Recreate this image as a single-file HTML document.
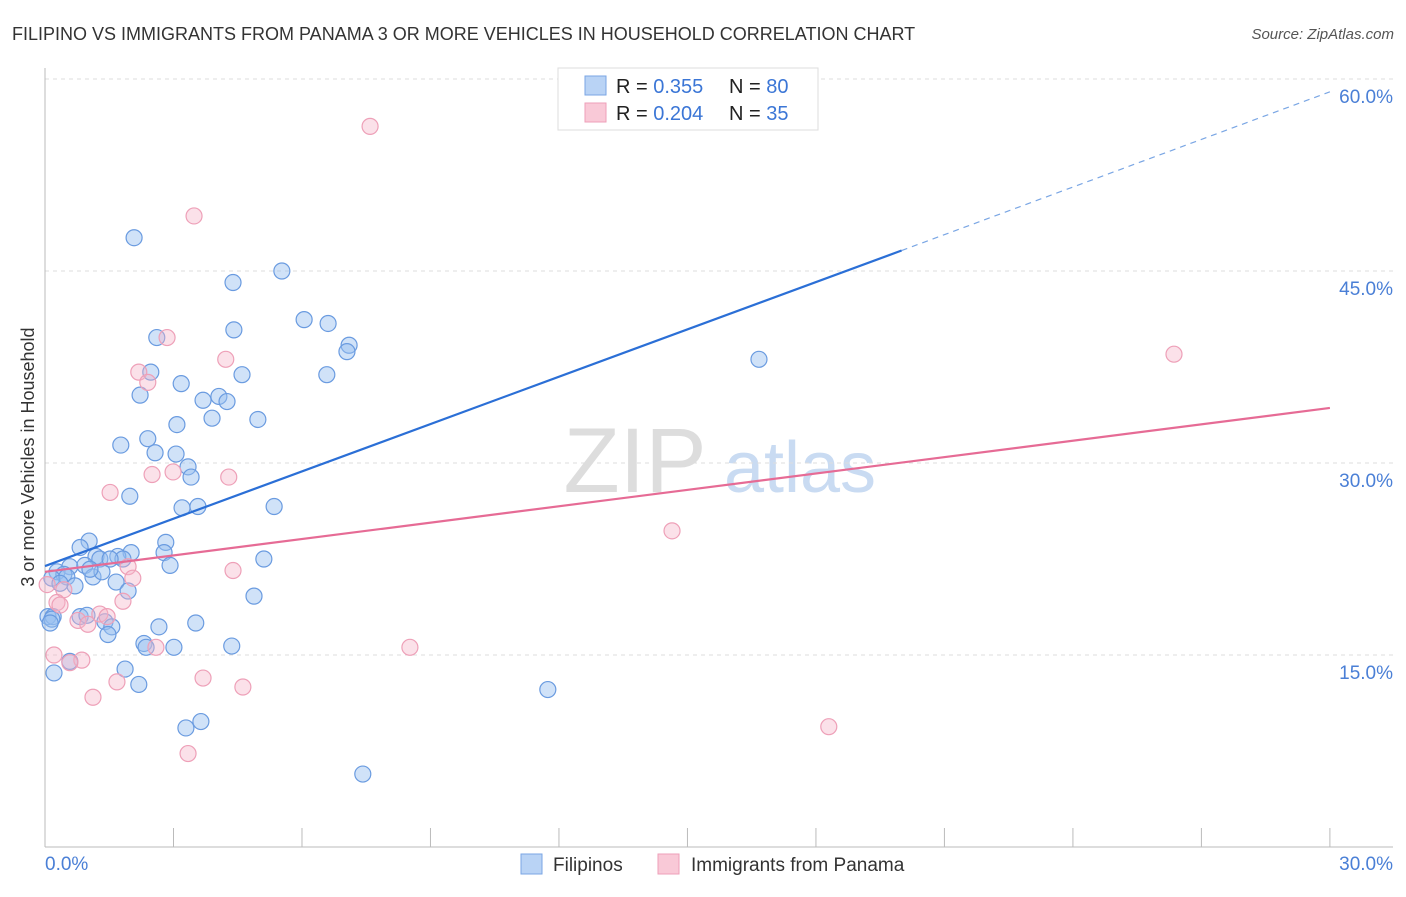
<!DOCTYPE html>
<html><head><meta charset="utf-8"><style>
body{margin:0;background:#fff;font-family:"Liberation Sans",sans-serif;}
svg text{font-family:"Liberation Sans",sans-serif;}
</style></head><body>
<svg id="chart" width="1406" height="892" xmlns="http://www.w3.org/2000/svg">
<text x="12" y="40" font-size="18" fill="#333">FILIPINO VS IMMIGRANTS FROM PANAMA 3 OR MORE VEHICLES IN HOUSEHOLD CORRELATION CHART</text>
<text x="1394" y="39" font-size="15" fill="#555" font-style="italic" text-anchor="end">Source: ZipAtlas.com</text>
<g>
<text x="635" y="492" font-size="92" fill="#ddd" font-family="Liberation Serif" text-anchor="middle">ZIP</text>
<text x="800" y="492" font-size="72" fill="#c9dbf2" text-anchor="middle">atlas</text>
</g>
<g id="grid"></g>
<g id="axes"></g>
<g id="pts"></g>
<g id="trends"></g>
<g>
<rect x="558" y="68" width="260" height="62" fill="#fff" stroke="#ddd"/>
<rect x="585" y="76" width="21" height="19" fill="#b9d3f5" stroke="#7aa6e4"/>
<rect x="585" y="103" width="21" height="19" fill="#f9c9d7" stroke="#ee9fb8"/>
<text x="616" y="93" font-size="20" fill="#222">R = <tspan fill="#3b76d6">0.355</tspan><tspan x="729" fill="#222">N = </tspan><tspan fill="#3b76d6">80</tspan></text>
<text x="616" y="120" font-size="20" fill="#222">R = <tspan fill="#3b76d6">0.204</tspan><tspan x="729" fill="#222">N = </tspan><tspan fill="#3b76d6"> 35</tspan></text>
</g>
<g>
<rect x="521" y="854" width="21" height="20" fill="#b9d3f5" stroke="#7aa6e4"/>
<text x="553" y="871" font-size="19" fill="#333">Filipinos</text>
<rect x="658" y="854" width="21" height="20" fill="#f9c9d7" stroke="#ee9fb8"/>
<text x="691" y="871" font-size="19" fill="#333">Immigrants from Panama</text>
</g>
<text transform="translate(34,457) rotate(-90)" font-size="18" fill="#333" text-anchor="middle">3 or more Vehicles in Household</text>
</svg>
<script>
const yTicks=[15,30,45,60];
const yTickLabels=["15.0%","30.0%","45.0%","60.0%"];
const xTickLabels=["0.0%","30.0%"];
const blueX=[2.08,4.39,5.53,6.05,6.61,7.10,7.05,2.61,4.41,16.67,2.47,4.60,6.58,3.18,2.22,4.06,3.69,4.25,3.90,4.97,3.08,2.40,1.77,2.57,3.06,3.34,3.41,1.98,3.20,3.57,5.35,1.03,0.82,2.82,2.01,2.78,1.19,1.70,1.28,1.82,5.11,0.58,0.93,2.92,0.28,0.44,0.16,1.12,1.33,1.66,0.51,0.70,1.94,4.88,0.07,0.19,0.82,0.98,1.40,1.56,2.66,3.52,1.47,2.31,2.36,3.01,4.36,0.58,1.87,0.21,2.19,11.74,3.29,3.64,7.42,0.16,0.35,1.52,1.05,0.12];
const blueY=[47.6,44.1,45.0,41.2,40.9,39.2,38.7,39.8,40.4,38.1,37.1,36.9,36.9,36.2,35.3,35.2,34.9,34.8,33.5,33.4,33.0,31.9,31.4,30.8,30.7,29.7,28.9,27.4,26.5,26.6,26.6,23.9,23.4,23.8,23.0,23.0,22.7,22.7,22.5,22.5,22.5,21.9,22.0,22.0,21.5,21.3,21.0,21.1,21.5,20.7,21.1,20.4,20.0,19.6,18.0,18.0,18.0,18.1,17.6,17.2,17.2,17.5,16.6,15.9,15.6,15.6,15.7,14.5,13.9,13.6,12.7,12.3,9.3,9.8,5.7,17.8,20.6,22.5,21.7,17.5];
const pinkX=[7.59,3.48,2.85,4.22,2.19,2.40,26.36,2.50,2.99,4.29,1.52,1.94,4.39,2.05,0.44,1.82,0.28,1.28,0.77,1.00,1.45,2.59,8.52,0.86,0.58,0.21,3.69,1.68,4.62,1.12,3.34,18.30,14.64,0.05,0.35];
const pinkY=[56.3,49.3,39.8,38.1,37.1,36.3,38.5,29.1,29.3,28.9,27.7,21.9,21.6,21.0,20.1,19.2,19.1,18.2,17.7,17.4,18.0,15.6,15.6,14.6,14.4,15.0,13.2,12.9,12.5,11.7,7.3,9.4,24.7,20.5,18.9];
const trendBlue=[21.95,46.6];  // y at x=0 and x=20
const trendBlueExt=59.0;       // y at x=30 (dashed extension)
const trendPink=[21.5,34.3];   // y at x=0 and x=30
const X=v=>45+v*42.83, Y=v=>847-v*12.8;
const NS="http://www.w3.org/2000/svg";
function mk(tag,attrs,parent){const e=document.createElementNS(NS,tag);for(const k in attrs)e.setAttribute(k,attrs[k]);document.getElementById(parent).appendChild(e);return e;}
yTicks.forEach((t,i)=>{
 const l=mk('line',{x1:45,x2:1393,y1:Y(t),y2:Y(t),stroke:'#ddd','stroke-dasharray':'4,4'},'grid');
 
 
 const tx=mk('text',{x:1393,y:Y(t)+24,'font-size':19,fill:'#4a7fd6','text-anchor':'end'},'grid');
 tx.textContent=yTickLabels[i];
 
 
});
const ax=mk('line',{x1:45,x2:45,y1:68,y2:847,stroke:'#bbb'},'axes');


const bx=mk('line',{x1:45,x2:1393,y1:847,y2:847,stroke:'#bbb'},'axes');


for(let i=0;i<=10;i++){
 const t=mk('line',{x1:X(i*3),x2:X(i*3),y1:828,y2:847,stroke:'#bbb'},'axes');
 
 
}
[[0,'start'],[30,'end']].forEach((p,i)=>{
 const t=mk('text',{x:i?1393:45,y:870,'font-size':19,fill:'#4a7fd6','text-anchor':p[1]},'axes');
 t.textContent=xTickLabels[i];
 
 
});
blueX.forEach((x,i)=>{
 const c=mk('circle',{cx:X(x),cy:Y(blueY[i]),r:8,fill:'rgba(150,190,240,0.45)',stroke:'#6a9be0','stroke-width':1.2},'pts');
 
 
});
pinkX.forEach((x,i)=>{
 const c=mk('circle',{cx:X(x),cy:Y(pinkY[i]),r:8,fill:'rgba(245,180,200,0.4)',stroke:'#eea0b8','stroke-width':1.2},'pts');
 
 
});
const tb=mk('line',{x1:X(0),y1:Y(trendBlue[0]),x2:X(20),y2:Y(trendBlue[1]),stroke:'#2b6fd6','stroke-width':2.2},'trends');


const td=mk('line',{x1:X(20),y1:Y(trendBlue[1]),x2:X(30),y2:Y(trendBlueExt),stroke:'#7aa6e4','stroke-width':1.2,'stroke-dasharray':'6,5'},'trends');


const tp=mk('line',{x1:X(0),y1:Y(trendPink[0]),x2:X(30),y2:Y(trendPink[1]),stroke:'#e66b95','stroke-width':2.2},'trends');


</script>
</body></html>
